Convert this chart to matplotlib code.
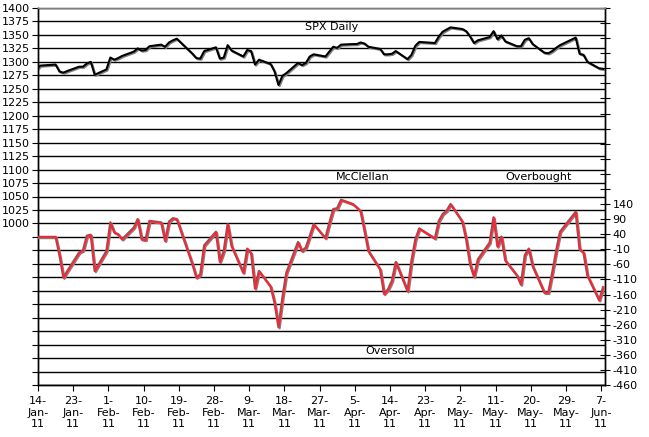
import matplotlib
matplotlib.use("Agg")
import matplotlib.pyplot as plt
import matplotlib.dates as mdates
import matplotlib.patheffects as pe
from matplotlib.ticker import FixedLocator, FuncFormatter
from datetime import date, timedelta
import numpy as np

# trading days shown on the chart (first one sits just left of the axis)
days = [
    "2011-01-13", "2011-01-14", "2011-01-18", "2011-01-19", "2011-01-20", "2011-01-21",
    "2011-01-24", "2011-01-25", "2011-01-26", "2011-01-27", "2011-01-28", "2011-01-31",
    "2011-02-01", "2011-02-02", "2011-02-03", "2011-02-04", "2011-02-07", "2011-02-08",
    "2011-02-09", "2011-02-10", "2011-02-11", "2011-02-14", "2011-02-15", "2011-02-16",
    "2011-02-17", "2011-02-18", "2011-02-22", "2011-02-23", "2011-02-24", "2011-02-25",
    "2011-02-28", "2011-03-01", "2011-03-02", "2011-03-03", "2011-03-04", "2011-03-07",
    "2011-03-08", "2011-03-09", "2011-03-10", "2011-03-11", "2011-03-14", "2011-03-15",
    "2011-03-16", "2011-03-17", "2011-03-18", "2011-03-21", "2011-03-22", "2011-03-23",
    "2011-03-24", "2011-03-25", "2011-03-28", "2011-03-29", "2011-03-30", "2011-03-31",
    "2011-04-01", "2011-04-04", "2011-04-05", "2011-04-06", "2011-04-07", "2011-04-08",
    "2011-04-11", "2011-04-12", "2011-04-13", "2011-04-14", "2011-04-15", "2011-04-18",
    "2011-04-19", "2011-04-20", "2011-04-21", "2011-04-25", "2011-04-26", "2011-04-27",
    "2011-04-28", "2011-04-29", "2011-05-02", "2011-05-03", "2011-05-04", "2011-05-05",
    "2011-05-06", "2011-05-09", "2011-05-10", "2011-05-11", "2011-05-12", "2011-05-13",
    "2011-05-16", "2011-05-17", "2011-05-18", "2011-05-19", "2011-05-20", "2011-05-23",
    "2011-05-24", "2011-05-25", "2011-05-26", "2011-05-27", "2011-05-31", "2011-06-01",
    "2011-06-02", "2011-06-03", "2011-06-06", "2011-06-07",
]

spx = [
    1284, 1293, 1295, 1282, 1280, 1283, 1291, 1291, 1297, 1300, 1276, 1286,
    1308, 1304, 1307, 1311, 1319, 1325, 1321, 1322, 1329, 1332, 1328, 1336,
    1340, 1343, 1315, 1307, 1306, 1320, 1327, 1306, 1308, 1331, 1321, 1310,
    1322, 1320, 1295, 1304, 1296, 1282, 1257, 1274, 1279, 1298, 1294, 1298,
    1310, 1314, 1310, 1319, 1328, 1326, 1332, 1333, 1333, 1336, 1334, 1328,
    1324, 1314, 1314, 1315, 1320, 1305, 1313, 1330, 1337, 1335, 1347, 1356,
    1360, 1364, 1361, 1357, 1347, 1335, 1340, 1346, 1357, 1342, 1349, 1338,
    1329, 1329, 1341, 1344, 1333, 1317, 1316, 1320, 1326, 1331, 1345, 1315,
    1313, 1300, 1288, 1287,
]

mcclellan = [
    31, 31, 31, -30, -104, -82, -21, -14, 35, 38, -82, -16,
    79, 46, 40, 23, 62, 90, 23, 21, 84, 79, 18, 82,
    93, 90, -60, -104, -93, 3, 48, -52, -16, 73, 1, -88,
    -8, -23, -140, -82, -134, -188, -268, -171, -88, 14, -16, -4,
    34, 73, 27, 77, 123, 126, 154, 140, 129, 116, 51, -16,
    -77, -158, -143, -115, -52, -149, -49, 23, 59, 26, 84, 107,
    118, 140, 82, 23, -60, -101, -43, 12, 96, -1, 32, -47,
    -97, -127, -29, -8, -66, -154, -154, -88, -16, 48, 114, -10,
    -21, -97, -179, -136,
]

left_ticks = list(range(700, 1401, 25))
right_ticks = list(range(-460, 791, 50))

x = mdates.datestr2num(days) + 0.5
start = date(2011, 1, 14)
tick_dates = [start + timedelta(days=9 * k) for k in range(17)]
tick_labels = [f"{d.day}-\n{d:%b}-\n{d:%y}" for d in tick_dates]

fig = plt.figure(figsize=(6.49, 4.37), dpi=100)
ax = fig.add_axes([38 / 649, 52 / 437, 567 / 649, 377 / 437])
ax2 = ax.twinx()

shadow = [pe.SimpleLineShadow(offset=(0.8, -0.8), shadow_color="#808080", alpha=1, rho=1), pe.Normal()]

ax.plot(x, spx, color="black", lw=1.5, zorder=3, path_effects=shadow)
ax2.plot(x, mcclellan, color="#e0303c", lw=1.7, zorder=3, path_effects=shadow)

ax.set_xlim(mdates.date2num(start), mdates.date2num(date(2011, 6, 8)))
ax.set_ylim(700, 1400)
ax2.set_ylim(-460, 790)

ax.yaxis.set_major_locator(FixedLocator(left_ticks))
ax.yaxis.set_major_formatter(FuncFormatter(lambda v, p: f"{v:.0f}" if v >= 1000 else ""))
ax2.yaxis.set_major_locator(FixedLocator(right_ticks))
ax2.yaxis.set_major_formatter(FuncFormatter(lambda v, p: f"{v:.0f}" if v <= 140 else ""))

ax.set_xticks(mdates.date2num(tick_dates))
ax.set_xticklabels(tick_labels, linespacing=1.2)

ax.set_axisbelow(True)
ax.grid(axis="y", color="black", lw=1)
ax.grid(axis="x", visible=False)

for a in (ax, ax2):
    for s in a.spines.values():
        s.set_color("black")
        s.set_linewidth(1)
    a.spines["top"].set_color("#808080")

ax.tick_params(axis="x", direction="out", length=4, labelsize=8, pad=4)
ax.tick_params(axis="y", direction="out", length=4, labelsize=8, pad=2)
ax2.tick_params(axis="y", direction="inout", length=7, labelsize=8, pad=2)

ax.text(mdates.date2num(date(2011, 3, 30)), 1365, "SPX Daily", fontsize=8, ha="center", va="center")
ax.text(mdates.date2num(date(2011, 4, 7)), 1086, "McClellan", fontsize=8, ha="center", va="center")
ax.text(mdates.date2num(date(2011, 5, 22)), 1086, "Overbought", fontsize=8, ha="center", va="center")
ax.text(mdates.date2num(date(2011, 4, 14)), 764, "Oversold", fontsize=8, ha="center", va="center")

fig.savefig("out.png", dpi=100)
